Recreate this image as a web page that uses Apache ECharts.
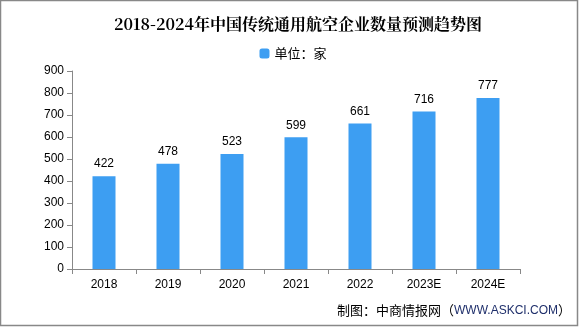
<!DOCTYPE html>
<html><head><meta charset="utf-8">
<script src="https://cdn.jsdelivr.net/npm/echarts@6/dist/echarts.min.js"></script>
<style>html,body{margin:0;padding:0;background:#fff}#c{width:586px;height:327px}</style>
</head><body><div id="c"></div>
<script>
const titleText = '2018-2024年中国传统通用航空企业数量预测趋势图';
const legendName = '单位：家';
const categories = ['2018','2019','2020','2021','2022','2023E','2024E'];
const values = [422,478,523,599,661,716,777];
const yTicks = [0,100,200,300,400,500,600,700,800,900];
const footerLabel = '制图：中商情报网（';
const footerUrl = 'WWW.ASKCI.COM';
const footerEnd = '）';

const chart = echarts.init(document.getElementById('c'));
chart.setOption({
  animation:false,
  backgroundColor:'#fff',
  title:{text:titleText,left:293,textAlign:'center',top:11,
    textStyle:{fontFamily:'"Noto Serif CJK SC","Noto Sans CJK SC",serif',fontSize:16,fontWeight:'bold',color:'#000'}},
  legend:{data:[legendName],left:'center',top:42,itemWidth:10,itemHeight:10,itemGap:5,
    textStyle:{fontFamily:'"Noto Sans CJK SC",sans-serif',fontSize:13,color:'#000'}},
  grid:{left:72,right:66,top:71,bottom:58},
  xAxis:{type:'category',data:categories,
    axisLine:{lineStyle:{color:'#888'}},
    axisTick:{show:true,alignWithLabel:false,length:5,lineStyle:{color:'#888'}},
    axisLabel:{color:'#000',fontSize:12,margin:10,fontFamily:'"Liberation Sans",Arial,sans-serif'}},
  yAxis:{type:'value',min:yTicks[0],max:yTicks[yTicks.length-1],interval:100,
    axisLine:{show:true,lineStyle:{color:'#888'}},
    axisTick:{show:true,length:5,lineStyle:{color:'#888'}},
    splitLine:{show:false},
    axisLabel:{color:'#000',fontSize:12,margin:8,fontFamily:'"Liberation Sans",Arial,sans-serif'}},
  series:[{name:legendName,type:'bar',data:values,barWidth:23,
    itemStyle:{color:'#3d9ef2'},
    label:{show:true,position:'top',distance:6,color:'#000',fontSize:12,fontFamily:'"Liberation Sans",Arial,sans-serif'}}],
  graphic:[
    {type:'rect',shape:{x:0.5,y:0.5,width:577,height:325},style:{fill:'none',stroke:'#888',lineWidth:1.5},silent:true},
    {type:'text',left:337,top:304,style:{
      text:'{a|'+footerLabel+'}{b|'+footerUrl+'}{a|'+footerEnd+'}',
      rich:{a:{fontSize:13,fill:'#000',fontFamily:'"Noto Sans CJK SC",sans-serif'},
            b:{fontSize:12,fill:'#1f2f6b',fontFamily:'"Liberation Sans",Arial,sans-serif'}}}}
  ]
});
</script></body></html>
